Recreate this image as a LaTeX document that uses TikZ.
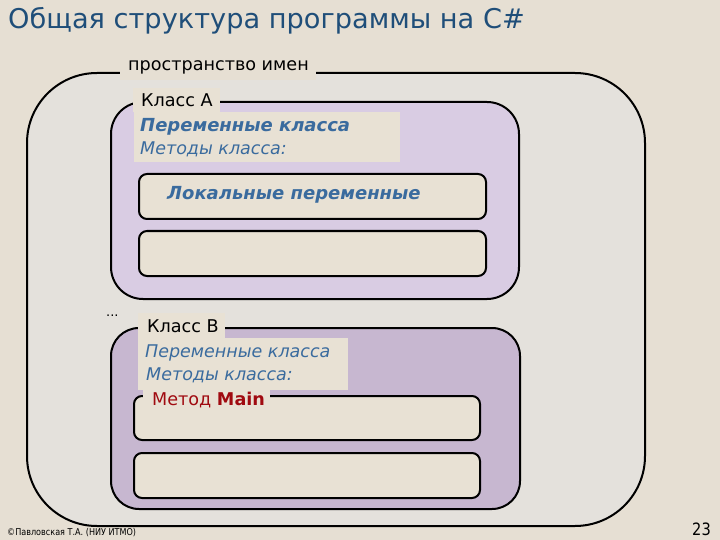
\documentclass[tikz,border=0pt]{standalone}
\usepackage{fontspec}
\setmainfont{DejaVu Sans}
\newfontfamily\narrowfont[FakeStretch=0.86]{DejaVu Sans}
\definecolor{bgc}{HTML}{E6DFD3}
\definecolor{outerc}{HTML}{E4E1DC}
\definecolor{beigec}{HTML}{E8E1D4}
\definecolor{clsA}{HTML}{D9CCE3}
\definecolor{clsB}{HTML}{C7B7D0}
\definecolor{titlec}{HTML}{1F4E79}
\definecolor{bluec}{HTML}{3A6B9E}
\definecolor{redc}{HTML}{A00A10}
\tikzset{
  boxstyle/.style={draw=black, line width=2pt, anchor=north west, inner sep=0pt},
  bgpatch/.style={fill=beigec, anchor=north west, inner sep=0pt},
  lbl/.style={anchor=west, inner sep=0pt, font=\fontsize{17.6}{20}\selectfont},
  bluetext/.style={anchor=west, inner sep=0pt, text=bluec, font=\fontsize{17.5}{20}\selectfont\itshape},
  boldblue/.style={bluetext, font=\fontsize{18}{20}\selectfont\bfseries\itshape},
}
\begin{document}
\begin{tikzpicture}[x=1pt,y=-1pt]
\useasboundingbox (0,0) rectangle (720,540);
\fill[bgc] (0,0) rectangle (720,540);
% title
\node[anchor=west, inner sep=0pt, text=titlec, font=\fontsize{27.2}{30}\selectfont] (title) at (8,21) {Общая структура программы на C\#};
% namespace
\node[boxstyle, fill=outerc, rounded corners=70pt, minimum width=618pt, minimum height=453pt] (ns) at (26,72) {};
\node[fill=bgc, anchor=north west, inner sep=0pt, minimum width=196pt, minimum height=24pt] (nslblbg) at (120,56) {};
\node[lbl] (nslbl) at (128,67) {пространство имен};
% class A
\node[boxstyle, fill=clsA, rounded corners=32pt, minimum width=408pt, minimum height=197pt] (clA) at (110,101) {};
\node[bgpatch, minimum width=266pt, minimum height=50pt] (clAtxtbg) at (134,112) {};
\node[bgpatch, minimum width=87pt, minimum height=24pt] (clAlblbg) at (133,88) {};
\node[lbl] (clAlbl) at (141,100) {Класс А};
\node[boldblue] (clAvars) at (140,127) {Переменные класса};
\node[bluetext] (clAmeth) at (140,149) {Методы класса:};
\node[boxstyle, fill=beigec, rounded corners=8pt, minimum width=347pt, minimum height=45pt] (a1) at (138,173) {};
\node[boldblue] (a1txt) at (167,195) {Локальные переменные};
\node[boxstyle, fill=beigec, rounded corners=8pt, minimum width=347pt, minimum height=45pt] (a2) at (138,230) {};
% dots
\node[anchor=west, inner sep=0pt, font=\fontsize{13}{15}\selectfont] (dots) at (106,316) {...};
% class B
\node[boxstyle, fill=clsB, rounded corners=28pt, minimum width=409pt, minimum height=181pt] (clB) at (110,327) {};
\node[bgpatch, minimum width=210pt, minimum height=52pt] (clBtxtbg) at (138,338) {};
\node[bgpatch, minimum width=87pt, minimum height=25pt] (clBlblbg) at (138,313) {};
\node[lbl] (clBlbl) at (147,326) {Класс B};
\node[bluetext] (clBvars) at (145,353) {Переменные класса};
\node[bluetext] (clBmeth) at (146,375) {Методы класса:};
\node[boxstyle, fill=beigec, rounded corners=8pt, minimum width=346pt, minimum height=44pt] (mainbox) at (133,395) {};
\node[bgpatch, minimum width=127pt, minimum height=22pt] (mainlblbg) at (143,386) {};
\node[lbl, text=redc] (mainlbl) at (152,400) {Метод \textbf{Main}};
\node[boxstyle, fill=beigec, rounded corners=8pt, minimum width=346pt, minimum height=45pt] (b2) at (133,452) {};
% footer
\node[anchor=west, inner sep=0pt, font=\narrowfont\fontsize{9.4}{11}\selectfont] (foot) at (7,533) {©Павловская Т.А. (НИУ ИТМО)};
\node[anchor=east, inner sep=0pt, font=\narrowfont\fontsize{17}{19}\selectfont] (pg) at (711,529) {23};
\end{tikzpicture}
\end{document}
